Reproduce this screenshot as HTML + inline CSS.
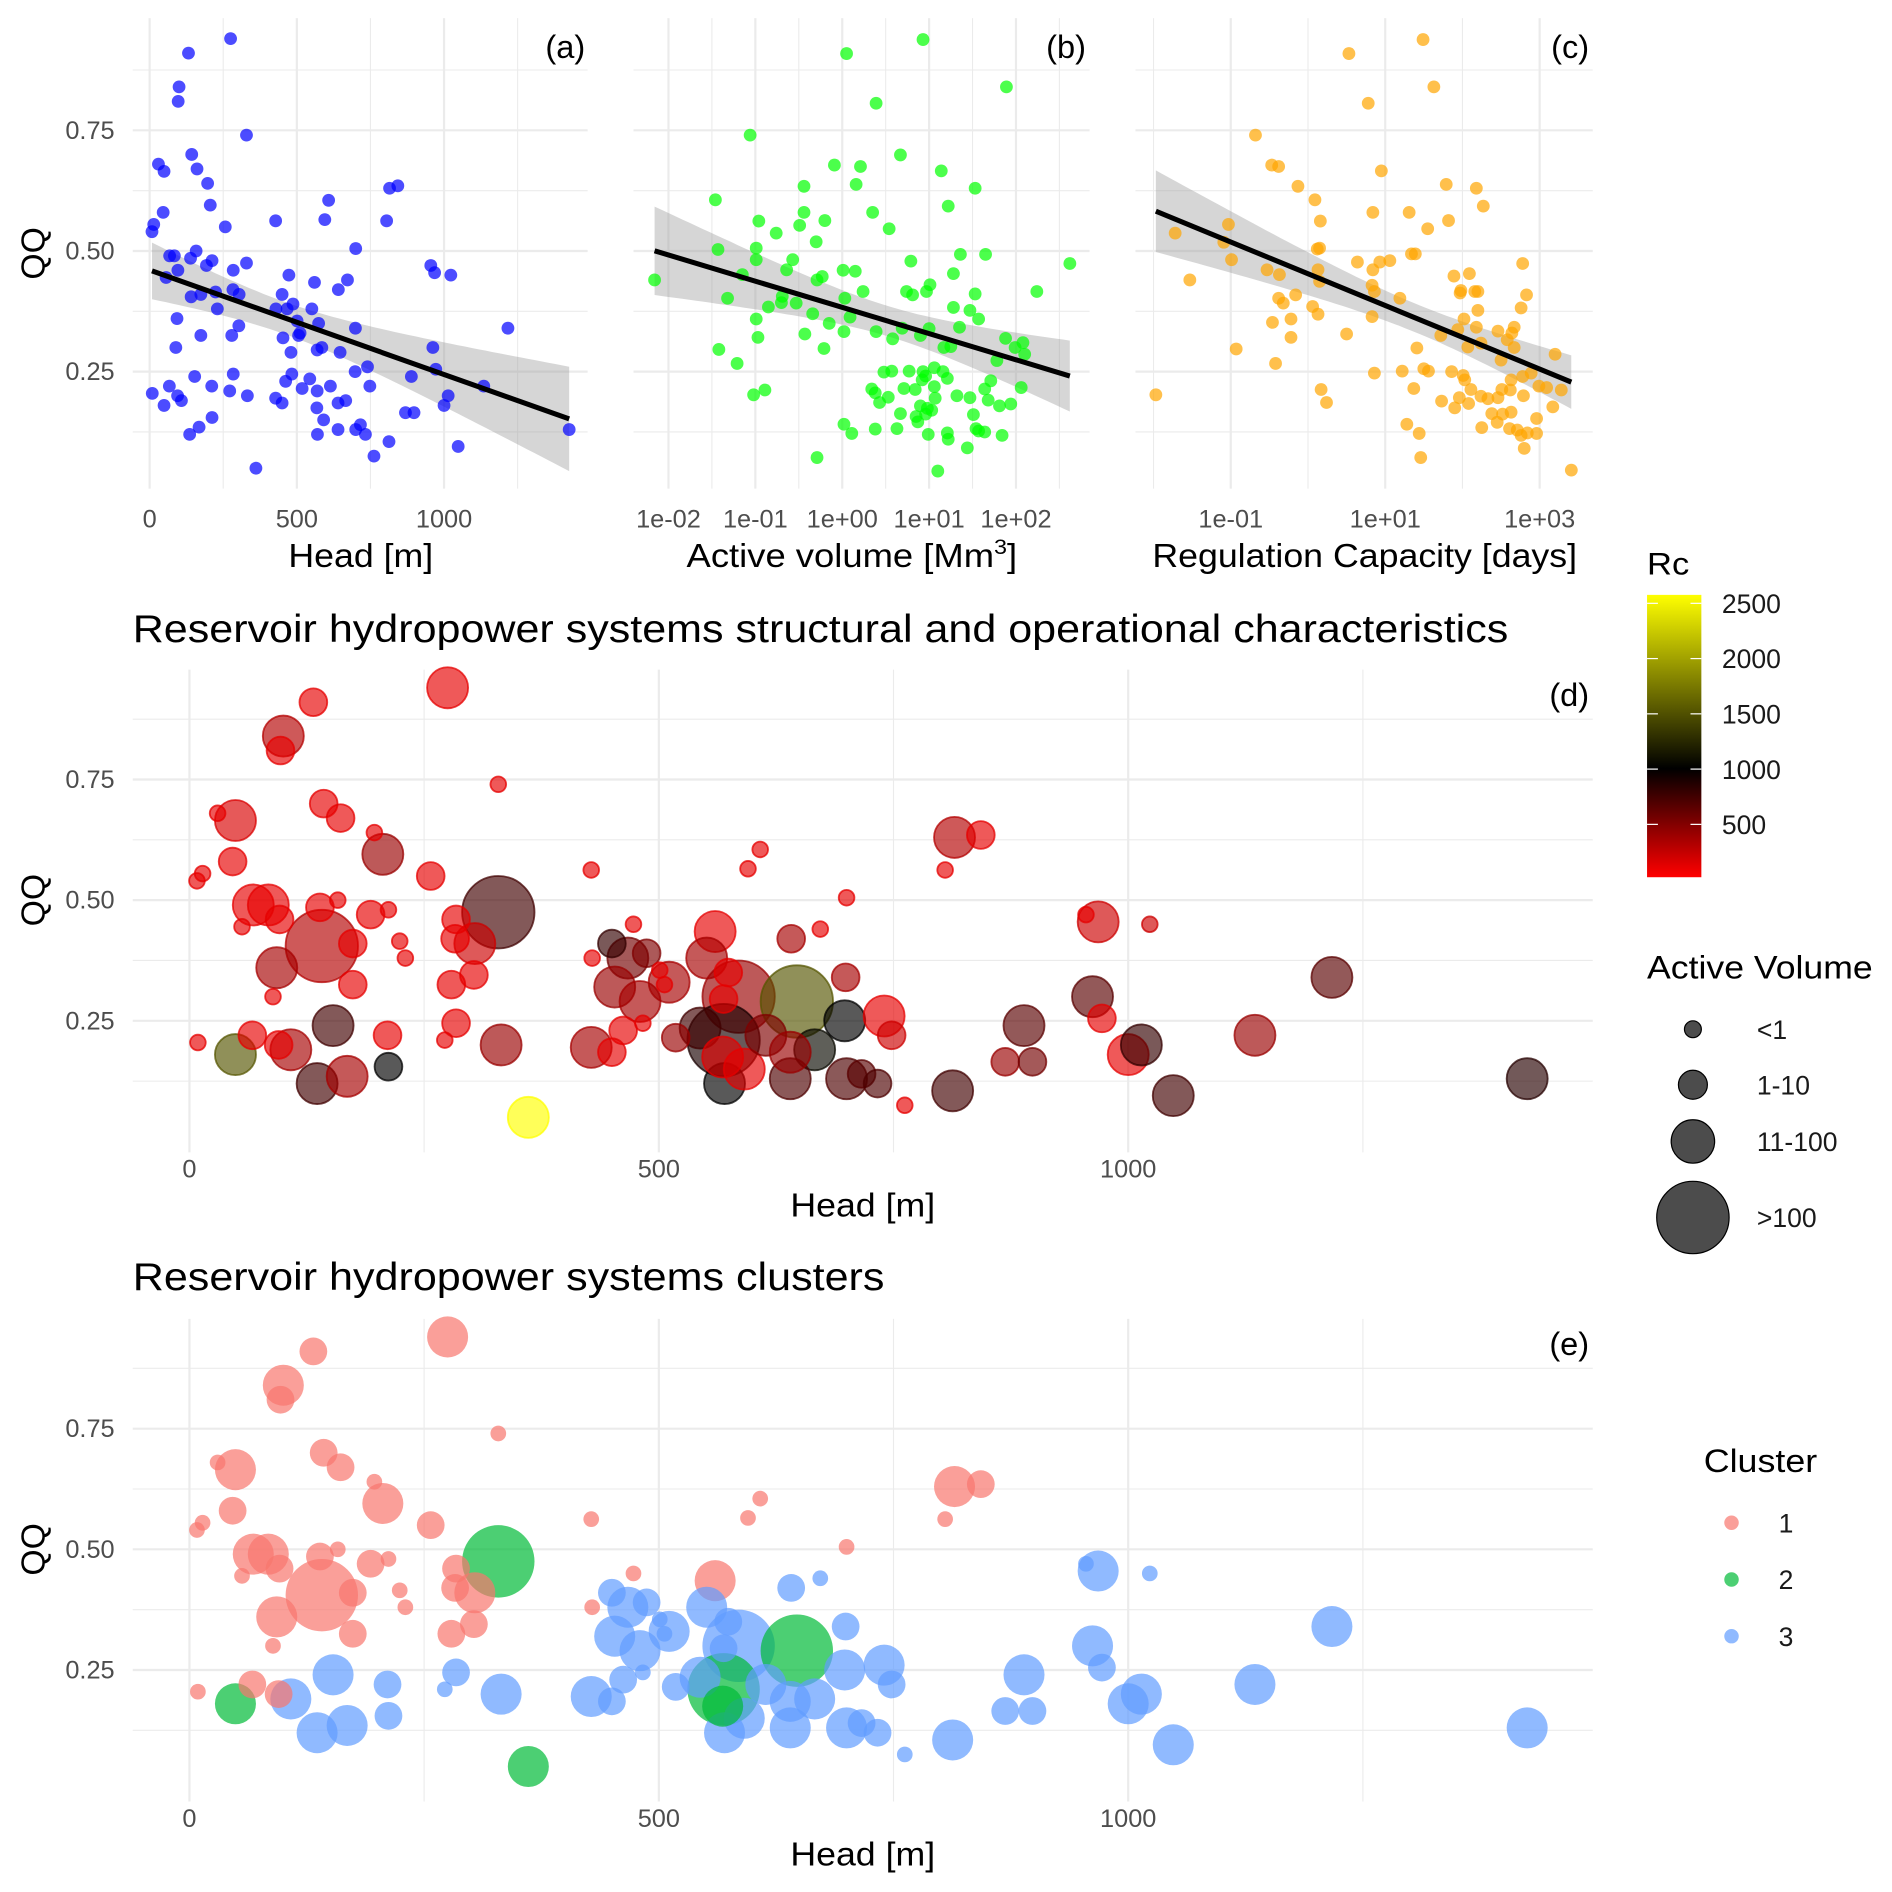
<!DOCTYPE html>
<html><head><meta charset="utf-8">
<style>
html,body{margin:0;padding:0;background:#fff;}
svg{display:block;font-family:"Liberation Sans",Arial,sans-serif;}
</style></head>
<body>
<svg id="chart" width="1892" height="1892" viewBox="0 0 1568 1568" xmlns="http://www.w3.org/2000/svg">
<defs>
<linearGradient id="rcgrad" x1="0" y1="0" x2="0" y2="1">
<stop offset="0" stop-color="#FFFF00"/><stop offset="0.615" stop-color="#000000"/><stop offset="1" stop-color="#FF0000"/>
</linearGradient>
</defs>
<g id="grid"></g>
<g id="marks"></g>
<g id="labels" font-size="21" fill="#4D4D4D"></g>
</svg>
<script>
// ---- data: reservoirs (head, QQ, volume class, Rc, cluster) ----
const head = [275,132,100,97,329,49,30,46,143,161,197,206,257,14,8,68,84,96,56,93,141,139,158,193,212,174,174,89,67,108,95,9,49,153,136,168,211,212,224,230,284,283,304,329,279,303,284,272,332,361,428,429,450,467,487,473,453,480,483,462,428,450,511,560,551,574,585,544,569,570,591,614,647,666,640,640,641,698,740,748,699,672,595,608,700,716,733,762,813,815,843,805,869,898,889,955,968,962,972,1000,1014,1023,1048,1135,1217,1425,501,506,569,568,700,518];
const qq = [0.94,0.91,0.84,0.81,0.74,0.665,0.68,0.58,0.70,0.67,0.64,0.595,0.55,0.555,0.54,0.49,0.49,0.46,0.445,0.36,0.405,0.485,0.50,0.47,0.48,0.41,0.325,0.30,0.22,0.19,0.20,0.205,0.18,0.24,0.12,0.135,0.22,0.155,0.415,0.38,0.46,0.42,0.41,0.475,0.325,0.345,0.245,0.21,0.20,0.05,0.5625,0.38,0.41,0.38,0.39,0.45,0.32,0.29,0.245,0.23,0.195,0.185,0.33,0.435,0.38,0.35,0.30,0.235,0.21,0.12,0.15,0.22,0.29,0.19,0.13,0.185,0.42,0.25,0.26,0.22,0.34,0.44,0.565,0.605,0.505,0.14,0.12,0.075,0.105,0.63,0.635,0.5625,0.165,0.165,0.24,0.47,0.455,0.30,0.255,0.18,0.20,0.45,0.095,0.22,0.34,0.13,0.355,0.325,0.295,0.175,0.13,0.215];
const volClass = [3,2,3,2,1,3,1,2,2,2,1,3,2,1,1,3,3,2,1,3,4,2,1,2,1,2,2,1,2,3,2,1,3,3,3,3,2,2,1,1,2,2,3,4,2,2,2,1,3,3,1,1,2,3,2,1,3,3,1,2,3,2,3,3,3,2,4,3,4,3,3,3,4,3,3,3,2,3,3,2,2,1,1,1,1,2,2,1,3,3,2,1,2,2,3,1,3,3,2,3,3,1,3,3,3,3,1,1,2,3,3,2];
const rc = [100,100,300,100,100,150,100,100,100,100,100,400,100,100,100,100,100,100,100,350,300,100,100,100,100,100,100,100,100,350,100,100,1500,750,750,350,100,1000,100,100,100,100,200,750,100,100,100,100,400,2500,100,100,800,550,500,100,400,350,100,100,350,100,350,100,350,100,400,750,900,1000,100,500,1500,1050,700,400,350,1000,100,200,350,100,100,100,100,650,700,100,750,300,100,100,400,550,650,100,200,650,100,100,800,200,750,400,650,850,100,100,100,100,700,400];
const cluster = [1,1,1,1,1,1,1,1,1,1,1,1,1,1,1,1,1,1,1,1,1,1,1,1,1,1,1,1,1,3,1,1,2,3,3,3,3,3,1,1,1,1,1,2,1,1,3,3,3,2,1,1,3,3,3,1,3,3,3,3,3,3,3,1,3,3,3,3,2,3,3,3,2,3,3,3,3,3,3,3,3,3,1,1,1,3,3,3,3,1,1,1,3,3,3,3,3,3,3,3,3,3,3,3,3,3,3,3,3,2,3,3];
// panel (b): log10 active volume and QQ
const logVolB = [0.93,0.05,1.89,0.39,-1.06,0.67,-0.09,0.21,1.14,0.16,-0.44,1.53,-1.46,1.22,0.35,-0.44,-0.96,-0.20,-0.49,-0.76,0.54,-0.30,-1.43,-0.99,1.36,1.65,2.62,-0.57,0.79,-0.99,-2.16,-1.15,-0.64,0.01,0.15,-0.29,-0.23,1.28,0.24,0.74,0.81,0.97,1.01,1.53,2.24,-1.32,-0.69,-0.70,-0.53,-0.85,0.03,1.28,1.47,1.57,-0.34,0.09,-0.99,-0.15,0.02,0.39,0.58,0.69,0.90,1.00,1.35,-0.43,-0.97,-0.21,-1.42,-1.21,1.17,1.25,1.88,1.99,2.08,2.10,1.78,1.71,1.64,2.06,0.48,0.57,0.77,0.93,0.96,1.06,1.16,1.21,0.92,0.34,0.38,0.53,0.71,0.84,1.06,1.07,0.90,0.98,1.03,0.96,0.67,0.43,1.32,1.47,1.68,1.81,1.94,1.51,0.85,0.87,0.02,0.11,0.38,0.63,0.99,1.21,1.22,1.54,1.57,1.64,1.84,1.44,-0.29,1.10,-1.02,-0.89];
const qqB = [0.938,0.909,0.840,0.806,0.740,0.699,0.678,0.675,0.666,0.638,0.634,0.630,0.606,0.593,0.580,0.580,0.562,0.563,0.553,0.537,0.546,0.519,0.503,0.506,0.493,0.493,0.474,0.482,0.479,0.482,0.440,0.451,0.461,0.460,0.458,0.440,0.447,0.453,0.416,0.416,0.409,0.416,0.430,0.411,0.416,0.402,0.406,0.393,0.392,0.384,0.402,0.383,0.377,0.359,0.370,0.363,0.359,0.350,0.333,0.333,0.318,0.340,0.325,0.339,0.342,0.328,0.321,0.298,0.296,0.267,0.300,0.302,0.319,0.300,0.310,0.286,0.273,0.231,0.214,0.217,0.249,0.251,0.251,0.250,0.241,0.258,0.250,0.236,0.233,0.214,0.206,0.197,0.215,0.213,0.219,0.195,0.179,0.174,0.170,0.162,0.163,0.186,0.200,0.196,0.191,0.179,0.183,0.161,0.157,0.146,0.141,0.122,0.131,0.132,0.120,0.123,0.110,0.132,0.127,0.125,0.118,0.092,0.072,0.044,0.202,0.212];
// panel (c): log10 regulation capacity and QQ
const logRegC = [1.49,0.53,1.63,0.78,-0.68,-0.47,-0.38,0.95,-0.13,1.79,2.18,0.09,2.27,0.84,1.31,0.16,1.82,1.55,-1.03,-1.72,-1.09,0.12,0.15,1.34,1.39,0.64,0.93,1.06,2.78,-0.99,-0.53,-0.37,0.13,0.84,-1.53,0.15,1.89,2.09,0.83,0.86,1.19,1.97,1.98,2.16,2.20,2.83,-0.38,-0.32,-0.16,0.06,0.13,2.76,2.20,0.83,2.02,-0.46,-0.22,2.18,1.94,2.46,2.67,2.64,1.72,0.50,-0.22,2.07,2.24,2.58,2.67,3.20,-0.93,1.41,-0.42,0.86,1.22,1.50,1.56,1.86,2.01,2.03,2.11,2.50,2.78,2.63,2.89,2.99,3.09,3.28,2.51,2.62,2.24,2.33,2.46,2.79,1.96,2.08,1.73,1.90,1.37,-1.97,0.17,0.24,2.38,2.52,2.63,2.45,2.96,3.17,2.25,2.61,2.71,2.76,2.84,2.96,2.80,1.28,1.44,1.46,3.41];
const qqC = [0.938,0.909,0.840,0.806,0.740,0.678,0.675,0.666,0.634,0.638,0.630,0.606,0.593,0.580,0.580,0.562,0.563,0.546,0.555,0.537,0.518,0.504,0.506,0.494,0.494,0.477,0.477,0.480,0.474,0.482,0.461,0.451,0.461,0.461,0.440,0.437,0.448,0.453,0.429,0.416,0.402,0.413,0.418,0.416,0.416,0.409,0.402,0.392,0.409,0.385,0.369,0.382,0.377,0.364,0.359,0.352,0.359,0.342,0.337,0.334,0.342,0.330,0.325,0.328,0.321,0.301,0.309,0.316,0.300,0.286,0.297,0.299,0.267,0.247,0.251,0.256,0.251,0.250,0.242,0.233,0.213,0.274,0.240,0.233,0.247,0.220,0.217,0.212,0.213,0.212,0.199,0.194,0.196,0.200,0.196,0.184,0.189,0.175,0.215,0.202,0.213,0.186,0.163,0.162,0.166,0.145,0.153,0.177,0.134,0.132,0.129,0.118,0.123,0.122,0.091,0.141,0.122,0.072,0.046];
const qqTicks = [0.25,0.5,0.75];
const qqTickLabels = ["0.25","0.50","0.75"];
const headTicks = [0,500,1000];
const volTicks = [-2,-1,0,1,2];
const volTickLabels = ["1e-02","1e-01","1e+00","1e+01","1e+02"];
const regTicks = [-1,1,3];
const regTickLabels = ["1e-01","1e+01","1e+03"];
const rcTicks = [500,1000,1500,2000,2500];
const sizeLabels = ["<1","1-10","11-100",">100"];
const clusterIds = [1,2,3];

// ---- scales ----
const aX = h => 124 + 0.244*h, aY = q => 408 - 400*q;
const bX = l => 554 + 72*(l+2);
const cX = l => 1020 + 64*(l+1);
const dX = h => 157 + 0.778*h, dY = q => 946 - 400*q, eY = q => 1484 - 400*q;
const rcY = v => 729 - v*0.0916;
const radius = [0,6.5,11.5,17,30];
const clusterCol = {1:"#F8766D",2:"#00BA38",3:"#619CFF"};
function rcColor(v){
  if(v>=1000){const t=Math.min(1,(v-1000)/1500);const c=Math.round(255*t);return `rgb(${c},${c},0)`;}
  const c=Math.round(255*(1-v/1000));return `rgb(${c},0,0)`;
}
const NS="http://www.w3.org/2000/svg";
const G=document.getElementById('grid'),M=document.getElementById('marks'),L=document.getElementById('labels');
function el(tag,attrs,parent){const e=document.createElementNS(NS,tag);for(const k in attrs)e.setAttribute(k,attrs[k]);parent.appendChild(e);return e;}
function txt(s,attrs,parent){const e=el('text',attrs,parent);e.textContent=s;return e;}

function hline(y,x1,x2,major){const l=el('line',{x1:x1,x2:x2,y1:y,y2:y,stroke:'#EBEBEB','stroke-width':major?1.8:0.9},G);

}
function vline(x,y1,y2,major){const l=el('line',{x1:x,x2:x,y1:y1,y2:y2,stroke:'#EBEBEB','stroke-width':major?1.8:0.9},G);

}

// ---- grids ----
const panels=[[110,487],[525,903],[941,1320]];
panels.forEach(p=>{ [0.125,0.375,0.625,0.875].forEach(q=>hline(aY(q),p[0],p[1],false)); qqTicks.forEach(q=>hline(aY(q),p[0],p[1],true)); });
[0,500,1000].forEach(h=>vline(aX(h),15,405,true));[250,750,1250].forEach(h=>vline(aX(h),15,405,false));
volTicks.forEach(l=>vline(bX(l),15,405,true));[-1.5,-0.5,0.5,1.5,2.5].forEach(l=>vline(bX(l),15,405,false));
regTicks.forEach(l=>vline(cX(l),15,405,true));[-2,0,2].forEach(l=>vline(cX(l),15,405,false));
[[dY,555,955],[eY,1093,1493]].forEach(([fy,t,b])=>{
  [0.125,0.375,0.625,0.875].forEach(q=>hline(fy(q),110,1320,false));
  qqTicks.forEach(q=>hline(fy(q),110,1320,true));
  headTicks.forEach(h=>vline(dX(h),t,b,true));[250,750,1250].forEach(h=>vline(dX(h),t,b,false));
});

// ---- regression + ribbon ----
function fitDraw(xs,ys,sx,sy,name){
  const n=xs.length;let mx=0,my=0;xs.forEach((x,i)=>{mx+=x;my+=ys[i];});mx/=n;my/=n;
  let sxx=0,sxy=0;xs.forEach((x,i)=>{sxx+=(x-mx)*(x-mx);sxy+=(x-mx)*(ys[i]-my);});
  const b=sxy/sxx,a=my-b*mx;let sse=0;xs.forEach((x,i)=>{const r=ys[i]-a-b*x;sse+=r*r;});
  const s=Math.sqrt(sse/(n-2)),t=1.98;
  const x0=Math.min(...xs),x1=Math.max(...xs);const up=[],lo=[];
  for(let k=0;k<=60;k++){const x=x0+(x1-x0)*k/60;const f=a+b*x;const se=s*Math.sqrt(1/n+(x-mx)*(x-mx)/sxx)*t;
    up.push(sx(x).toFixed(1)+','+sy(f+se).toFixed(1));lo.unshift(sx(x).toFixed(1)+','+sy(f-se).toFixed(1));}
  const rb=el('polygon',{points:up.concat(lo).join(' '),fill:'#999999','fill-opacity':0.4},M);
  
  
  return ()=>{const ln=el('line',{x1:sx(x0),y1:sy(a+b*x0),x2:sx(x1),y2:sy(a+b*x1),stroke:'#000','stroke-width':4.2},M);
  
  };
}
function scatter(xs,ys,sx,sy,col,name){
  xs.forEach((x,i)=>{const c=el('circle',{cx:sx(x),cy:sy(ys[i]),r:5.3,fill:col,'fill-opacity':0.7},M);
  
  });
}
let ln;
ln=fitDraw(head,qq,aX,aY,'head');scatter(head,qq,aX,aY,'#0000FF','head-point');ln();
ln=fitDraw(logVolB,qqB,bX,aY,'volume');scatter(logVolB,qqB,bX,aY,'#00FF00','volume-point');ln();
ln=fitDraw(logRegC,qqC,cX,aY,'regulation');scatter(logRegC,qqC,cX,aY,'#FFA500','regulation-point');ln();

// ---- bubble panels d & e ----
const order=head.map((h,i)=>i).sort((i,j)=>volClass[j]-volClass[i]);
order.forEach(i=>{const col=rcColor(rc[i]);
  const c=el('circle',{cx:dX(head[i]),cy:dY(qq[i]),r:radius[volClass[i]],fill:col,'fill-opacity':0.65,stroke:col,'stroke-opacity':0.75,'stroke-width':1.5},M);
  
  });
order.forEach(i=>{const col=clusterCol[cluster[i]];
  const c=el('circle',{cx:dX(head[i]),cy:eY(qq[i]),r:radius[volClass[i]],fill:col,'fill-opacity':0.7},M);
  
  });

// ---- tick labels ----
function tl(s,x,y,anchor,name){const t=txt(s,{x:x,y:y,'text-anchor':anchor},L);
  
  }
qqTicks.forEach((q,i)=>{tl(qqTickLabels[i],95,aY(q)+7,'end','y-tick-label');tl(qqTickLabels[i],95,dY(q)+7,'end','y-tick-label');tl(qqTickLabels[i],95,eY(q)+7,'end','y-tick-label');});
headTicks.forEach(h=>{tl(String(h),aX(h),437,'middle','x-tick-label');tl(String(h),dX(h),976,'middle','x-tick-label');tl(String(h),dX(h),1514,'middle','x-tick-label');});
volTicks.forEach((l,i)=>tl(volTickLabels[i],bX(l),437,'middle','x-tick-label'));
regTicks.forEach((l,i)=>tl(regTickLabels[i],cX(l),437,'middle','x-tick-label'));
rcTicks.forEach(v=>{const t=txt(String(v),{x:1427,y:rcY(v)+8,'font-size':22,fill:'#1a1a1a'},L);
  
  });

// ---- legends ----
const lgY=[853,899,946,1009],lgR=[7,12,18,30];
sizeLabels.forEach((s,i)=>{const c=el('circle',{cx:1403,cy:lgY[i],r:lgR[i],fill:'#000','fill-opacity':0.7,stroke:'#000','stroke-width':1},M);
  
  
  const t=txt(s,{x:1456,y:lgY[i]+8,'font-size':22,fill:'#1a1a1a'},L);
  
  });
clusterIds.forEach((k,i)=>{const y=1262+47*i;const c=el('circle',{cx:1435,cy:y,r:6,fill:clusterCol[k],'fill-opacity':0.7},M);
  
  
  const t=txt(String(k),{x:1474,y:y+8,'font-size':22,fill:'#1a1a1a'},L);
  
  });
</script>
<script>
// static text overlay
const S=document.getElementById('chart');
const items=[
 ['(a)',485,48,'end',27,0,'panel-tag-a'],['(b)',900,48,'end',27,0,'panel-tag-b'],['(c)',1317,48,'end',27,0,'panel-tag-c'],
 ['(d)',1317,585,'end',27,0,'panel-tag-d'],['(e)',1317,1123,'end',27,0,'panel-tag-e'],
 ['Head [m]',239,470,'start',28,120,'x-axis-title-a'],
 ['Regulation Capacity [days]',955,470,'start',28,352,'x-axis-title-c'],
 ['Head [m]',655,1008,'start',28,120,'x-axis-title-d'],['Head [m]',655,1546,'start',28,120,'x-axis-title-e'],
 ['Reservoir hydropower systems structural and operational characteristics',110,532,'start',32,1140,'title-d'],
 ['Reservoir hydropower systems clusters',110,1069,'start',32,623,'title-e'],
 ['Rc',1365,476,'start',26,35,'colorbar-title'],['Active Volume',1365,811,'start',27,187,'size-legend-title'],
 ['Cluster',1412,1220,'start',27,94,'cluster-legend-title']];
items.forEach(([s,x,y,a,f,w,n])=>{const t=document.createElementNS("http://www.w3.org/2000/svg",'text');
 t.setAttribute('x',x);t.setAttribute('y',y);t.setAttribute('text-anchor',a);t.setAttribute('font-size',f);t.setAttribute('fill','#000');
 if(w){t.setAttribute('textLength',w);t.setAttribute('lengthAdjust','spacingAndGlyphs');}
 
 
 t.textContent=s;S.appendChild(t);});
const av=document.createElementNS("http://www.w3.org/2000/svg",'text');
av.setAttribute('x',569);av.setAttribute('y',470);av.setAttribute('font-size',28);
av.setAttribute('textLength',274);av.setAttribute('lengthAdjust','spacingAndGlyphs');


av.innerHTML='Active volume [Mm<tspan font-size="18" dy="-11">3</tspan><tspan dy="11">]</tspan>';S.appendChild(av);
[[210,'y-axis-title-a'],[746,'y-axis-title-d'],[1284,'y-axis-title-e']].forEach(([cy,n])=>{
 const t=document.createElementNS("http://www.w3.org/2000/svg",'text');
 t.setAttribute('x',0);t.setAttribute('y',0);t.setAttribute('text-anchor','middle');t.setAttribute('font-size',28);
 t.setAttribute('transform',`translate(37,${cy}) rotate(-90)`);
 
 
 t.textContent='QQ';S.appendChild(t);});
const bar=document.createElementNS("http://www.w3.org/2000/svg",'rect');
bar.setAttribute('x',1365);bar.setAttribute('y',493);bar.setAttribute('width',45);bar.setAttribute('height',234);bar.setAttribute('fill','url(#rcgrad)');


S.appendChild(bar);
[500,1000,1500,2000,2500].forEach(v=>{['1365','1401'].forEach(x0=>{const l=document.createElementNS("http://www.w3.org/2000/svg",'line');
 const y=729-v*0.0916;l.setAttribute('x1',x0);l.setAttribute('x2',+x0+9);l.setAttribute('y1',y);l.setAttribute('y2',y);l.setAttribute('stroke','#fff');l.setAttribute('stroke-width',1);
 
 
 S.appendChild(l);});});
</script>
</body></html>
